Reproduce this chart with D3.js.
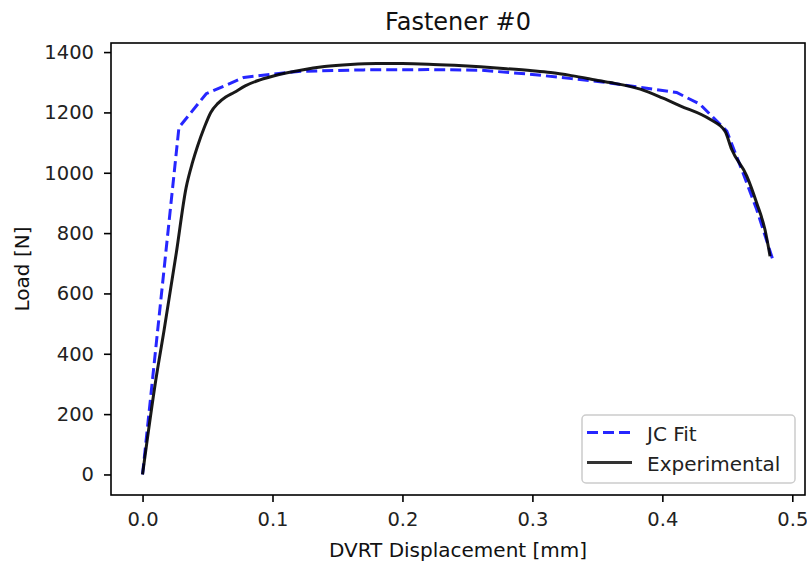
<!DOCTYPE html>
<html>
<head>
<meta charset="utf-8">
<script src="https://cdn.jsdelivr.net/npm/d3@7"></script>
<style>
  body { margin: 0; background: #fff; }
  svg { font-family: "DejaVu Sans", sans-serif; }
</style>
</head>
<body>
<svg id="chart" width="807" height="563"></svg>
<script>
// JC fit curve
var jcDisp = [0, 0.028, 0.049, 0.078, 0.12, 0.17, 0.22, 0.26, 0.30, 0.33, 0.352, 0.383, 0.411, 0.429, 0.4496, 0.462, 0.4726, 0.4855];
var jcLoad = [0, 1150, 1262, 1316, 1336, 1341, 1342, 1340, 1326, 1312, 1302, 1283, 1266, 1227, 1138, 1000, 878, 705];

// experimental curve
var expDisp = [0, 0.0102, 0.0166, 0.026, 0.0335, 0.0385, 0.0423, 0.0475, 0.0525, 0.058, 0.064, 0.0704, 0.079, 0.0884, 0.1, 0.1217, 0.14, 0.16, 0.18, 0.20, 0.22, 0.24, 0.26, 0.28, 0.30, 0.314, 0.33, 0.352, 0.36, 0.383, 0.40, 0.4137, 0.4367, 0.4482, 0.4534, 0.465, 0.4726, 0.479, 0.4829];
var expLoad = [0, 313, 479, 735, 950, 1035, 1088, 1150, 1200, 1230, 1251, 1266, 1288, 1305, 1320, 1340, 1352, 1359, 1362, 1362, 1360, 1356, 1351, 1345, 1338, 1332, 1322, 1305, 1299, 1277, 1248, 1222, 1177, 1138, 1077, 989, 900, 811, 723];

var xTicks = [0, 0.1, 0.2, 0.3, 0.4, 0.5];
var yTicks = [0, 200, 400, 600, 800, 1000, 1200, 1400];

var seriesNames = ["JC Fit", "Experimental"];

var margin = {top: 43, right: 2, bottom: 68, left: 111},
    width = 807 - margin.left - margin.right,
    height = 563 - margin.top - margin.bottom;

var jcData = jcDisp.map(function(d, i) { return [d, jcLoad[i]]; });
var expData = expDisp.map(function(d, i) { return [d, expLoad[i]]; });
var allData = jcData.concat(expData);

// matplotlib style 5% margins
var xExt = d3.extent(allData, function(d) { return d[0]; });
var yExt = d3.extent(allData, function(d) { return d[1]; });
var xPad = (xExt[1] - xExt[0]) * 0.05,
    yPad = (yExt[1] - yExt[0]) * 0.05;

var x = d3.scaleLinear()
          .domain([xExt[0] - xPad, xExt[1] + xPad])
          .range([0, width]);
var y = d3.scaleLinear()
          .domain([yExt[0] - yPad, yExt[1] + yPad])
          .range([height, 0]);

var svg = d3.select("#chart")
            .append("g")
            .attr("transform", "translate(" + margin.left + "," + margin.top + ")");

var line = d3.line()
             .x(function(d) { return x(d[0]); })
             .y(function(d) { return y(d[1]); });

svg.append("path")
    .datum(jcData)
    .attr("d", line)
    .attr("fill", "none")
    .attr("stroke", "blue")
    .attr("stroke-opacity", 0.85)
    .attr("stroke-width", 3)
    .attr("stroke-dasharray", "11,5");

// measured data is smooth, so round the polyline a bit
svg.append("path")
    .datum(expData)
    .attr("d", line.curve(d3.curveMonotoneX))
    .attr("fill", "none")
    .attr("stroke", "black")
    .attr("stroke-opacity", 0.9)
    .attr("stroke-width", 3)
    .attr("stroke-linejoin", "round");

// axes
var xAxis = svg.append("g")
    .attr("transform", "translate(0," + height + ")")
    .call(d3.axisBottom(x).tickValues(xTicks).tickFormat(d3.format(".1f")).tickSize(7).tickPadding(10).tickSizeOuter(0));
var yAxis = svg.append("g")
    .call(d3.axisLeft(y).tickValues(yTicks).tickFormat(d3.format("d")).tickSize(7).tickPadding(10).tickSizeOuter(0));

[xAxis, yAxis].forEach(function(a) {
    a.select(".domain").remove();
    a.selectAll(".tick line").attr("stroke", "#000").attr("stroke-width", 1.6);
    a.selectAll(".tick text")
        .attr("fill", "#222")
        .style("font-size", "19.5px")
        .style("font-family", "DejaVu Sans");
});

// frame
svg.append("rect")
    .attr("x", 0)
    .attr("y", 0)
    .attr("width", width)
    .attr("height", height)
    .attr("fill", "none")
    .attr("stroke", "#000")
    .attr("stroke-width", 1.6);

// title and labels
svg.append("text")
    .attr("x", width / 2)
    .attr("y", -13)
    .attr("text-anchor", "middle")
    .attr("fill", "#111")
    .style("font-size", "24px")
    .text("Fastener #0");

svg.append("text")
    .attr("x", width / 2)
    .attr("y", height + 62)
    .attr("text-anchor", "middle")
    .attr("fill", "#111")
    .style("font-size", "20px")
    .text("DVRT Displacement [mm]");

svg.append("text")
    .attr("transform", "translate(" + (29 - margin.left) + "," + (height / 2) + ") rotate(-90)")
    .attr("text-anchor", "middle")
    .attr("fill", "#111")
    .style("font-size", "20px")
    .text("Load [N]");

// legend
var legend = svg.append("g")
    .attr("transform", "translate(" + (width - 223) + "," + (height - 80) + ")");

legend.append("rect")
    .attr("width", 213)
    .attr("height", 68)
    .attr("rx", 4)
    .attr("fill", "#fff")
    .attr("fill-opacity", 0.8)
    .attr("stroke", "#ccc")
    .attr("stroke-width", 1.5);

var legendStyles = [
    {stroke: "blue", dash: "11,5", opacity: 0.85},
    {stroke: "black", dash: null, opacity: 0.8}
];

seriesNames.forEach(function(name, i) {
    var ly = 17.5 + i * 30;
    legend.append("line")
        .attr("x1", 5)
        .attr("x2", 50)
        .attr("y1", ly)
        .attr("y2", ly)
        .attr("stroke", legendStyles[i].stroke)
        .attr("stroke-opacity", legendStyles[i].opacity)
        .attr("stroke-width", 3)
        .attr("stroke-dasharray", legendStyles[i].dash);
    legend.append("text")
        .attr("x", 65)
        .attr("y", ly + 8.5)
        .attr("fill", "#222")
        .style("font-size", "20px")
        .text(name);
});
</script>
</body>
</html>
